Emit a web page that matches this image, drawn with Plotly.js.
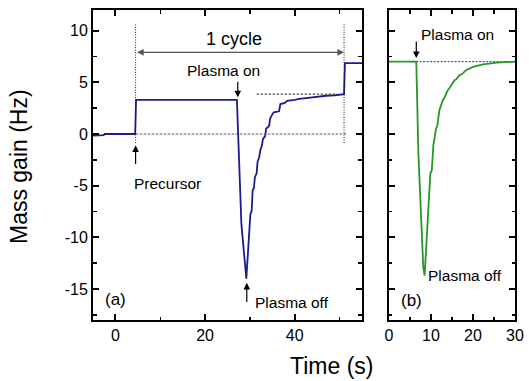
<!DOCTYPE html>
<html>
<head>
<meta charset="utf-8">
<script src="https://cdn.plot.ly/plotly-3.0.1.min.js"></script>
<style>html,body{margin:0;padding:0;background:#fff}#chart{width:529px;height:381px}</style>
</head>
<body>
<div id="chart"></div>
<script>
// Panel (a): full cycle, time (s) and mass gain (Hz)
var timeA = [-5, -3, -2.6, -2.4, 4.4, 4.5, 4.6, 27.1, 27.7, 28.1, 29.2, 29.7, 29.9, 30.1, 30.4, 30.6, 30.9, 31.1, 31.5, 31.7, 32.1, 32.3, 32.7, 32.9, 33.4, 33.6, 34.3, 34.5, 35.0, 35.3, 36.5, 36.8, 37.8, 38.3, 40, 41, 43, 44.5, 47, 49, 51, 51.2, 55];
var gainA = [-0.15, -0.15, -0.1, 0, 0, 1.5, 3.3, 3.3, -4.2, -8.7, -14.0, -10.2, -9.8, -7.8, -7.4, -5.5, -5.2, -4.2, -3.8, -2.7, -2.2, -1.6, -1.1, -0.5, -0.2, 0.5, 0.8, 1.5, 1.9, 2.1, 2.2, 2.9, 3.0, 3.2, 3.3, 3.4, 3.5, 3.6, 3.7, 3.75, 3.85, 6.85, 6.85];
// Panel (b): plasma step only
var timeB = [0, 6.5, 7.0, 7.6, 8.16, 8.48, 8.8, 9.2, 9.84, 10.2, 10.56, 11.2, 11.5, 12.0, 12.8, 13.2, 14.0, 14.5, 15.6, 16.0, 16.8, 17.4, 18.4, 20, 22.4, 25.6, 30];
var gainB = [7.0, 7.0, -1.9, -7.7, -12.9, -13.7, -11.1, -7.7, -3.85, -3.5, -1.1, 0.5, 0.8, 2.3, 3.27, 3.5, 4.24, 4.5, 5.2, 5.3, 5.7, 5.8, 6.2, 6.5, 6.73, 6.9, 7.0];
var ticksA = [0, 20, 40];
var ticksB = [0, 10, 20, 30];
var ticksY = [-15, -10, -5, 0, 5, 10];
var ticksYText = ['-15', '-10', '-5', '0', '5', '10'];

var F = 'Liberation Sans, Arial, sans-serif';
var blue = '#1c1c8e', green = '#2a962a', gray = '#555555';

var traces = [
  {x: [4.8, 30], y: [7, 7], xaxis: 'x2', yaxis: 'y2', mode: 'lines', line: {color: '#2222dd', width: 1, dash: '2px,1.5px'}, hoverinfo: 'skip'},
  {x: timeA, y: gainA, xaxis: 'x', yaxis: 'y', mode: 'lines', line: {color: blue, width: 1.8}},
  {x: timeB, y: gainB, xaxis: 'x2', yaxis: 'y2', mode: 'lines', line: {color: green, width: 1.8}}
];

function ax(extra) {
  var a = {
    showline: true, linewidth: 2, linecolor: '#000', mirror: 'allticks',
    ticks: 'inside', ticklen: 6, tickwidth: 2, tickcolor: '#000',
    showgrid: false, zeroline: false,
    tickfont: {family: F, size: 16, color: '#000'}
  };
  for (var k in extra) a[k] = extra[k];
  return a;
}
function mn(d) { return {ticks: 'inside', ticklen: 3.5, tickwidth: 1.5, tickcolor: '#000', dtick: d, tick0: 0, showgrid: false}; }

var dotK = {color: '#222', width: 1, dash: '1px,1.5px'};
var dotG = {color: gray, width: 1.2, dash: '2.5px,1.5px'};
var shapes = [
  {type: 'line', xref: 'x', yref: 'y', x0: 4.5, x1: 4.5, y0: 10.6, y1: -0.9, line: dotK},
  {type: 'line', xref: 'x', yref: 'y', x0: 51, x1: 51, y0: 10.6, y1: -0.9, line: dotK},
  {type: 'line', xref: 'x', yref: 'y', x0: 4.5, x1: 51.5, y0: 0, y1: 0, line: dotG},
  {type: 'line', xref: 'x', yref: 'y', x0: 31.5, x1: 49.5, y0: 3.85, y1: 3.85, line: dotG}
];

function arrow(xr, yr, x, y, axv, ayv, color) {
  return {xref: xr, yref: yr, axref: xr, ayref: yr, x: x, y: y, ax: axv, ay: ayv, text: '', showarrow: true,
    arrowhead: 2, arrowsize: 1.1, arrowwidth: 1.2, arrowcolor: color || '#000'};
}
function label(xr, yr, x, y, t, anchor, size) {
  return {xref: xr, yref: yr, x: x, y: y, text: t, showarrow: false, xanchor: anchor || 'center', yanchor: 'middle',
    font: {family: F, size: size || 15.5, color: '#000'}};
}

var ann = [
  Object.assign(arrow('x', 'y', 51, 7.9, 4.5, 7.9, gray), {arrowside: 'end+start'}),
  label('x', 'y', 26.5, 9.2, '1 cycle', 'center', 18),
  arrow('x', 'y', 4.5, -1.1, 4.5, -3.05),
  label('x', 'y', 11.6, -4.8, 'Precursor'),
  arrow('x', 'y', 27.3, 3.55, 27.3, 5.2),
  label('x', 'y', 24.2, 6.1, 'Plasma on'),
  arrow('x', 'y', 29.3, -14.4, 29.3, -16.4),
  label('x', 'y', 30.6, -16.35, 'Plasma off', 'left'),
  label('x', 'y', 0, -16.05, '(a)', 'center', 17),
  arrow('x2', 'y2', 6.5, 7.35, 6.5, 9.1),
  label('x2', 'y2', 7.2, 9.6, 'Plasma on', 'left'),
  label('x2', 'y2', 8.9, -13.7, 'Plasma off', 'left'),
  label('x2', 'y2', 5.4, -16.15, '(b)', 'center', 17),
  {xref: 'paper', yref: 'paper', x: 0.566, y: -0.148, text: 'Time (s)', showarrow: false, xanchor: 'center', yanchor: 'middle',
    font: {family: F, size: 23, color: '#000'}},
  {xref: 'paper', yref: 'paper', x: -0.175, y: 0.494, text: 'Mass gain (Hz)', showarrow: false, textangle: -90,
    xanchor: 'center', yanchor: 'middle', font: {family: F, size: 23, color: '#000'}}
];

var layout = {
  width: 529, height: 381,
  margin: {l: 93, r: 14, t: 10, b: 61},
  paper_bgcolor: '#fff', plot_bgcolor: '#fff',
  showlegend: false,
  xaxis: ax({domain: [0, 0.6374], range: [-5, 55], tickvals: ticksA, anchor: 'y', minor: mn(10)}),
  yaxis: ax({range: [-18, 12], tickvals: ticksY, ticktext: ticksYText, anchor: 'x', minor: mn(2.5)}),
  xaxis2: ax({domain: [0.7014, 1], range: [0, 30], tickvals: ticksB, anchor: 'y2', minor: mn(5)}),
  yaxis2: ax({range: [-18, 12], tickvals: ticksY, anchor: 'x2', showticklabels: false, minor: mn(2.5)}),
  shapes: shapes,
  annotations: ann
};

Plotly.newPlot('chart', traces, layout, {staticPlot: true, displayModeBar: false});
</script>
</body>
</html>
